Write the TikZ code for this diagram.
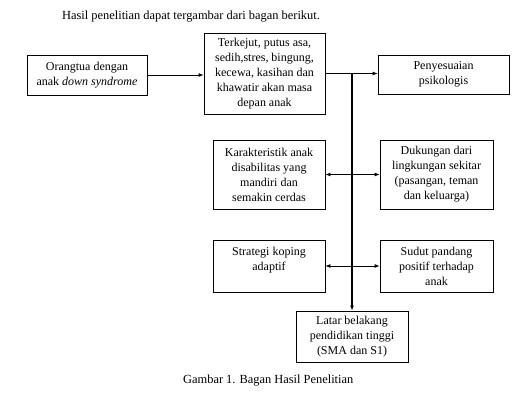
\documentclass[tikz,border=0pt]{standalone}
\usepackage{fontspec}
\setmainfont{Liberation Serif}
\usetikzlibrary{arrows.meta}

\begin{document}
\begin{tikzpicture}[x=1pt,y=-1pt,
    box/.style={draw,line width=0.8pt,align=center,inner sep=2pt,
        font=\fontsize{12}{15}\selectfont},
    arr/.style={line width=0.8pt,-{Latex[length=5pt,width=4pt]}},
    dbl/.style={line width=0.8pt,{Latex[length=5pt,width=4pt]}-{Latex[length=5pt,width=4pt]}},
    txt/.style={font=\fontsize{12.4}{15}\selectfont,inner sep=0pt}]
    \useasboundingbox (0,0) rectangle (525,409);

    % Heading
    \node[txt,anchor=west] (title) at (62,17) {Hasil penelitian dapat tergambar dari bagan berikut.};

    % Top row
    \node[box,minimum width=120pt,minimum height=40pt] (ortu) at (87,75)
        {Orangtua dengan\\anak \textit{down syndrome}};
    \node[box,minimum width=121pt,minimum height=81pt] (reaksi) at (264.5,73.5)
        {Terkejut, putus asa,\\sedih,stres, bingung,\\kecewa, kasihan dan\\khawatir akan masa\\depan anak};
    \node[box,minimum width=131pt,minimum height=39pt] (sesuai) at (443.5,74.5)
        {Penyesuaian\\psikologis};

    % Middle rows
    \node[box,minimum width=112pt,minimum height=69pt] (karakter) at (269,174.5)
        {Karakteristik anak\\disabilitas yang\\mandiri dan\\semakin cerdas};
    \node[box,minimum width=113pt,minimum height=69pt] (dukungan) at (436.5,174.5)
        {Dukungan dari\\lingkungan sekitar\\(pasangan, teman\\dan keluarga)};
    \node[box,minimum width=112pt,minimum height=52pt] (koping) at (269,266)
        {Strategi koping\\adaptif\\\mbox{}};
    \node[box,minimum width=113pt,minimum height=52pt] (sudut) at (436.5,266)
        {Sudut pandang\\positif terhadap\\anak};

    % Bottom box
    \node[box,minimum width=112pt,minimum height=51pt] (latar) at (352,336.5)
        {Latar belakang\\pendidikan tinggi\\(SMA dan S1)};

    % Connectors
    \coordinate (cabang) at (latar.north |- reaksi.east);
    \draw[arr] (ortu.east) -- (ortu.east -| reaksi.west);
    \draw[arr] (reaksi.east) -- (reaksi.east -| sesuai.west);
    \draw[arr,line width=1.2pt] (cabang) -- (latar.north);
    \draw[dbl] (karakter.east) -- (dukungan.west);
    \draw[dbl] (koping.east) -- (sudut.west);

    % Caption
    \node[txt,anchor=west] (judul) at (183,381) {Gambar 1. Bagan Hasil Penelitian};
\end{tikzpicture}
\end{document}
